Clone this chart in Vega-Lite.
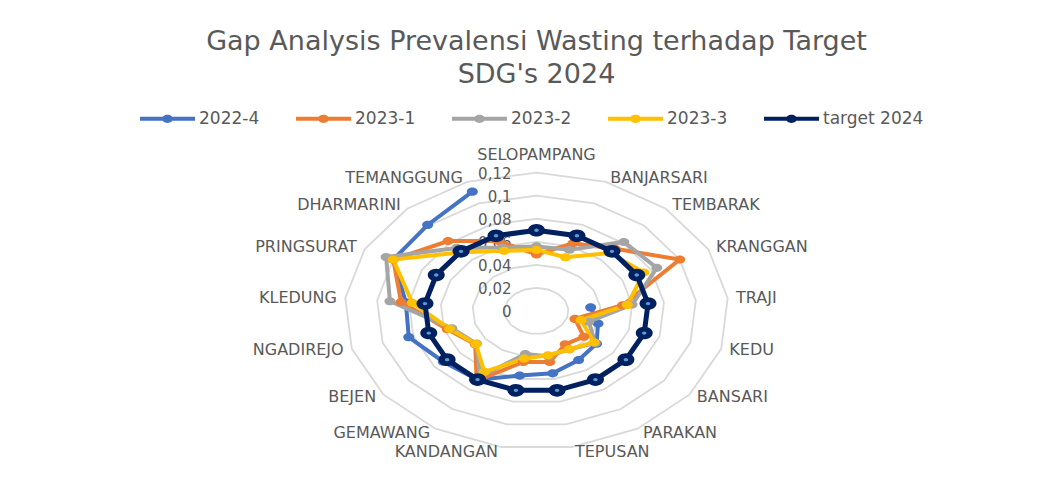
{
  "$schema": "https://vega.github.io/schema/vega-lite/v6.json",
  "width": 1057,
  "height": 485,
  "autosize": {"type": "none"},
  "padding": 0,
  "background": "white",
  "title": {
    "text": ["Gap Analysis Prevalensi Wasting terhadap Target", "SDG's 2024"],
    "anchor": "middle",
    "baseline": "top",
    "font": "DejaVu Sans",
    "fontSize": 27,
    "fontWeight": "normal",
    "color": "#595959",
    "lineHeight": 33,
    "offset": 0,
    "dy": 89,
    "dx": 8
  },
  "config": {
    "view": {"stroke": null},
    "legend": {
      "orient": "none",
      "legendX": 140,
      "legendY": 91,
      "direction": "horizontal",
      "title": null,
      "labelFont": "DejaVu Sans",
      "labelFontSize": 17,
      "labelColor": "#595959",
      "symbolSize": 3025,
      "symbolType": "M-1,-0.075H1V0.075H-1Z M-0.2,0A0.2,0.15 0 1,1 0.2,0A0.2,0.15 0 1,1 -0.2,0Z",
      "symbolStrokeWidth": 0,
      "symbolOpacity": 1,
      "columnPadding": 36,
      "labelOffset": 4
    }
  },
  "datasets": {
    "main": [
      {"region": "SELOPAMPANG", "2022-4": null, "2023-1": 0.049, "2023-2": 0.056, "2023-3": 0.053, "target 2024": 0.07},
      {"region": "BANJARSARI", "2022-4": null, "2023-1": 0.063, "2023-2": 0.057, "2023-3": 0.050, "target 2024": 0.07},
      {"region": "TEMBARAK", "2022-4": null, "2023-1": 0.073, "2023-2": 0.081, "2023-3": 0.068, "target 2024": 0.07},
      {"region": "KRANGGAN", "2022-4": null, "2023-1": 0.100, "2023-2": 0.084, "2023-3": 0.075, "target 2024": 0.07},
      {"region": "TRAJI", "2022-4": 0.034, "2023-1": 0.054, "2023-2": 0.060, "2023-3": 0.057, "target 2024": 0.07},
      {"region": "KEDU", "2022-4": 0.040, "2023-1": 0.025, "2023-2": 0.034, "2023-3": 0.029, "target 2024": 0.07},
      {"region": "BANSARI", "2022-4": 0.047, "2023-1": 0.037, "2023-2": 0.046, "2023-3": 0.045, "target 2024": 0.07},
      {"region": "PARAKAN", "2022-4": 0.050, "2023-1": 0.034, "2023-2": 0.039, "2023-3": 0.039, "target 2024": 0.07},
      {"region": "TEPUSAN", "2022-4": 0.055, "2023-1": 0.045, "2023-2": 0.040, "2023-3": 0.039, "target 2024": 0.07},
      {"region": "KANDANGAN", "2022-4": 0.057, "2023-1": 0.045, "2023-2": 0.038, "2023-3": 0.042, "target 2024": 0.07},
      {"region": "GEMAWANG", "2022-4": 0.070, "2023-1": 0.071, "2023-2": 0.067, "2023-3": 0.062, "target 2024": 0.07},
      {"region": "BEJEN", "2022-4": 0.073, "2023-1": 0.048, "2023-2": 0.047, "2023-3": 0.0475, "target 2024": 0.07},
      {"region": "NGADIREJO", "2022-4": 0.083, "2023-1": 0.058, "2023-2": 0.055, "2023-3": 0.0565, "target 2024": 0.07},
      {"region": "KLEDUNG", "2022-4": 0.082, "2023-1": 0.085, "2023-2": 0.092, "2023-3": 0.078, "target 2024": 0.07},
      {"region": "PRINGSURAT", "2022-4": 0.100, "2023-1": 0.100, "2023-2": 0.105, "2023-3": 0.100, "target 2024": 0.07},
      {"region": "DHARMARINI", "2022-4": 0.101, "2023-1": 0.082, "2023-2": 0.074, "2023-3": 0.069, "target 2024": 0.07},
      {"region": "TEMANGGUNG", "2022-4": 0.111, "2023-1": 0.065, "2023-2": 0.059, "2023-3": 0.056, "target 2024": 0.07}
    ],
    "ticks": [
      {"v": 0, "label": "0"},
      {"v": 0.02, "label": "0,02"},
      {"v": 0.04, "label": "0,04"},
      {"v": 0.06, "label": "0,06"},
      {"v": 0.08, "label": "0,08"},
      {"v": 0.1, "label": "0,1"},
      {"v": 0.12, "label": "0,12"}
    ]
  },
  "resolve": {"scale": {"x": "shared", "y": "shared", "color": "shared"}},
  "layer": [
    {
      "data": {"name": "main"},
      "transform": [
        {"window": [{"op": "row_number", "as": "idx"}]},
        {"calculate": "(datum.idx - 1) * 2 * PI / 17", "as": "ang"},
        {"calculate": "[0.02, 0.04, 0.06, 0.08, 0.1, 0.12]", "as": "lv"},
        {"flatten": ["lv"]},
        {"calculate": "datum.lv * sin(datum.ang)", "as": "px"},
        {"calculate": "datum.lv * cos(datum.ang)", "as": "py"}
      ],
      "mark": {"type": "line", "interpolate": "linear-closed", "stroke": "#d9d9d9", "strokeWidth": 1.8},
      "encoding": {
        "x": {"field": "px", "type": "quantitative", "scale": {"domain": [-0.3353, 0.3253], "nice": false, "zero": false}, "axis": null},
        "y": {"field": "py", "type": "quantitative", "scale": {"domain": [-0.1509, 0.2697], "nice": false, "zero": false}, "axis": null},
        "detail": {"field": "lv", "type": "quantitative"},
        "order": {"field": "idx", "type": "quantitative"}
      }
    },
    {
      "data": {"name": "ticks"},
      "transform": [{"calculate": "0", "as": "zx"}],
      "mark": {"type": "text", "align": "right", "baseline": "middle", "dx": -25, "dy": 1, "font": "DejaVu Sans", "fontSize": 15, "fill": "#595959"},
      "encoding": {
        "x": {"field": "zx", "type": "quantitative"},
        "y": {"field": "v", "type": "quantitative"},
        "text": {"field": "label"}
      }
    },
    {
      "data": {"name": "main"},
      "transform": [
        {"window": [{"op": "row_number", "as": "idx"}]},
        {"calculate": "(datum.idx - 1) * 2 * PI / 17", "as": "ang"},
        {"calculate": "0.124 * sin(datum.ang)", "as": "lx"},
        {"calculate": "0.124 * cos(datum.ang)", "as": "ly"},
        {"filter": "datum.idx == 1"}
      ],
      "mark": {"type": "text", "align": "center", "baseline": "bottom", "dy": -5, "font": "DejaVu Sans", "fontSize": 16, "fill": "#595959"},
      "encoding": {
        "x": {"field": "lx", "type": "quantitative"},
        "y": {"field": "ly", "type": "quantitative"},
        "text": {"field": "region"}
      }
    },
    {
      "data": {"name": "main"},
      "transform": [
        {"window": [{"op": "row_number", "as": "idx"}]},
        {"calculate": "(datum.idx - 1) * 2 * PI / 17", "as": "ang"},
        {"calculate": "0.124 * sin(datum.ang)", "as": "lx"},
        {"calculate": "0.124 * cos(datum.ang)", "as": "ly"},
        {"filter": "datum.idx > 1 && datum.idx <= 9"}
      ],
      "mark": {"type": "text", "align": "left", "baseline": "middle", "dx": 2, "font": "DejaVu Sans", "fontSize": 16, "fill": "#595959"},
      "encoding": {
        "x": {"field": "lx", "type": "quantitative"},
        "y": {"field": "ly", "type": "quantitative"},
        "text": {"field": "region"}
      }
    },
    {
      "data": {"name": "main"},
      "transform": [
        {"window": [{"op": "row_number", "as": "idx"}]},
        {"calculate": "(datum.idx - 1) * 2 * PI / 17", "as": "ang"},
        {"calculate": "0.124 * sin(datum.ang)", "as": "lx"},
        {"calculate": "0.124 * cos(datum.ang)", "as": "ly"},
        {"filter": "datum.idx > 9"}
      ],
      "mark": {"type": "text", "align": "right", "baseline": "middle", "dx": -2, "font": "DejaVu Sans", "fontSize": 16, "fill": "#595959"},
      "encoding": {
        "x": {"field": "lx", "type": "quantitative"},
        "y": {"field": "ly", "type": "quantitative"},
        "text": {"field": "region"}
      }
    },
    {
      "data": {"name": "main"},
      "transform": [
        {"window": [{"op": "row_number", "as": "idx"}]},
        {"calculate": "(datum.idx - 1) * 2 * PI / 17", "as": "ang"},
        {"fold": ["2022-4", "2023-1", "2023-2", "2023-3", "target 2024"], "as": ["series", "value"]},
        {"filter": "isValid(datum.value)"},
        {"calculate": "datum.value * sin(datum.ang)", "as": "px"},
        {"calculate": "datum.value * cos(datum.ang)", "as": "py"}
      ],
      "layer": [
        {
          "transform": [{"filter": "datum.series == '2022-4'"}],
          "mark": {"type": "line", "interpolate": "linear", "strokeWidth": 4},
          "encoding": {
            "x": {"field": "px", "type": "quantitative"},
            "y": {"field": "py", "type": "quantitative"},
            "color": {"field": "series", "type": "nominal"},
            "order": {"field": "idx", "type": "quantitative"}
          }
        },
        {
          "transform": [{"filter": "datum.series == '2022-4'"}],
          "mark": {"type": "point", "filled": true, "opacity": 1, "size": 121, "shape": "M-1,0A1,0.74 0 1,1 1,0A1,0.74 0 1,1 -1,0Z"},
          "encoding": {
            "x": {"field": "px", "type": "quantitative"},
            "y": {"field": "py", "type": "quantitative"},
            "color": {"field": "series", "type": "nominal"}
          }
        },
        {
          "transform": [{"filter": "datum.series != '2022-4' && datum.series != 'target 2024'"}],
          "mark": {"type": "line", "interpolate": "linear-closed", "strokeWidth": 4},
          "encoding": {
            "x": {"field": "px", "type": "quantitative"},
            "y": {"field": "py", "type": "quantitative"},
            "color": {"field": "series", "type": "nominal"},
            "order": {"field": "idx", "type": "quantitative"}
          }
        },
        {
          "transform": [{"filter": "datum.series != '2022-4' && datum.series != 'target 2024'"}],
          "mark": {"type": "point", "filled": true, "opacity": 1, "size": 121, "shape": "M-1,0A1,0.74 0 1,1 1,0A1,0.74 0 1,1 -1,0Z"},
          "encoding": {
            "x": {"field": "px", "type": "quantitative"},
            "y": {"field": "py", "type": "quantitative"},
            "color": {"field": "series", "type": "nominal"}
          }
        },
        {
          "transform": [{"filter": "datum.series == 'target 2024'"}],
          "mark": {"type": "line", "interpolate": "linear-closed", "strokeWidth": 5},
          "encoding": {
            "x": {"field": "px", "type": "quantitative"},
            "y": {"field": "py", "type": "quantitative"},
            "color": {"field": "series", "type": "nominal"},
            "order": {"field": "idx", "type": "quantitative"}
          }
        },
        {
          "transform": [{"filter": "datum.series == 'target 2024'"}],
          "mark": {"type": "point", "filled": true, "opacity": 1, "size": 289, "shape": "M-1,0A1,0.74 0 1,1 1,0A1,0.74 0 1,1 -1,0Z"},
          "encoding": {
            "x": {"field": "px", "type": "quantitative"},
            "y": {"field": "py", "type": "quantitative"},
            "color": {
              "field": "series",
              "type": "nominal",
              "scale": {
                "domain": ["2022-4", "2023-1", "2023-2", "2023-3", "target 2024"],
                "range": ["#4472C4", "#ED7D31", "#A5A5A5", "#FFC000", "#002060"]
              },
              "legend": {
                "encode": {
                  "symbols": {
                    "update": {
                      "fill": {"scale": "color", "field": "value"},
                      "stroke": {"value": "transparent"},
                      "strokeWidth": {"value": 0},
                      "opacity": {"value": 1}
                    }
                  }
                }
              }
            }
          }
        },
        {
          "transform": [{"filter": "datum.series == 'target 2024'"}],
          "mark": {"type": "point", "filled": true, "opacity": 1, "size": 20, "color": "#5B9BD5", "shape": "M-1,0A1,0.74 0 1,1 1,0A1,0.74 0 1,1 -1,0Z"},
          "encoding": {
            "x": {"field": "px", "type": "quantitative"},
            "y": {"field": "py", "type": "quantitative"}
          }
        }
      ]
    }
  ]
}
